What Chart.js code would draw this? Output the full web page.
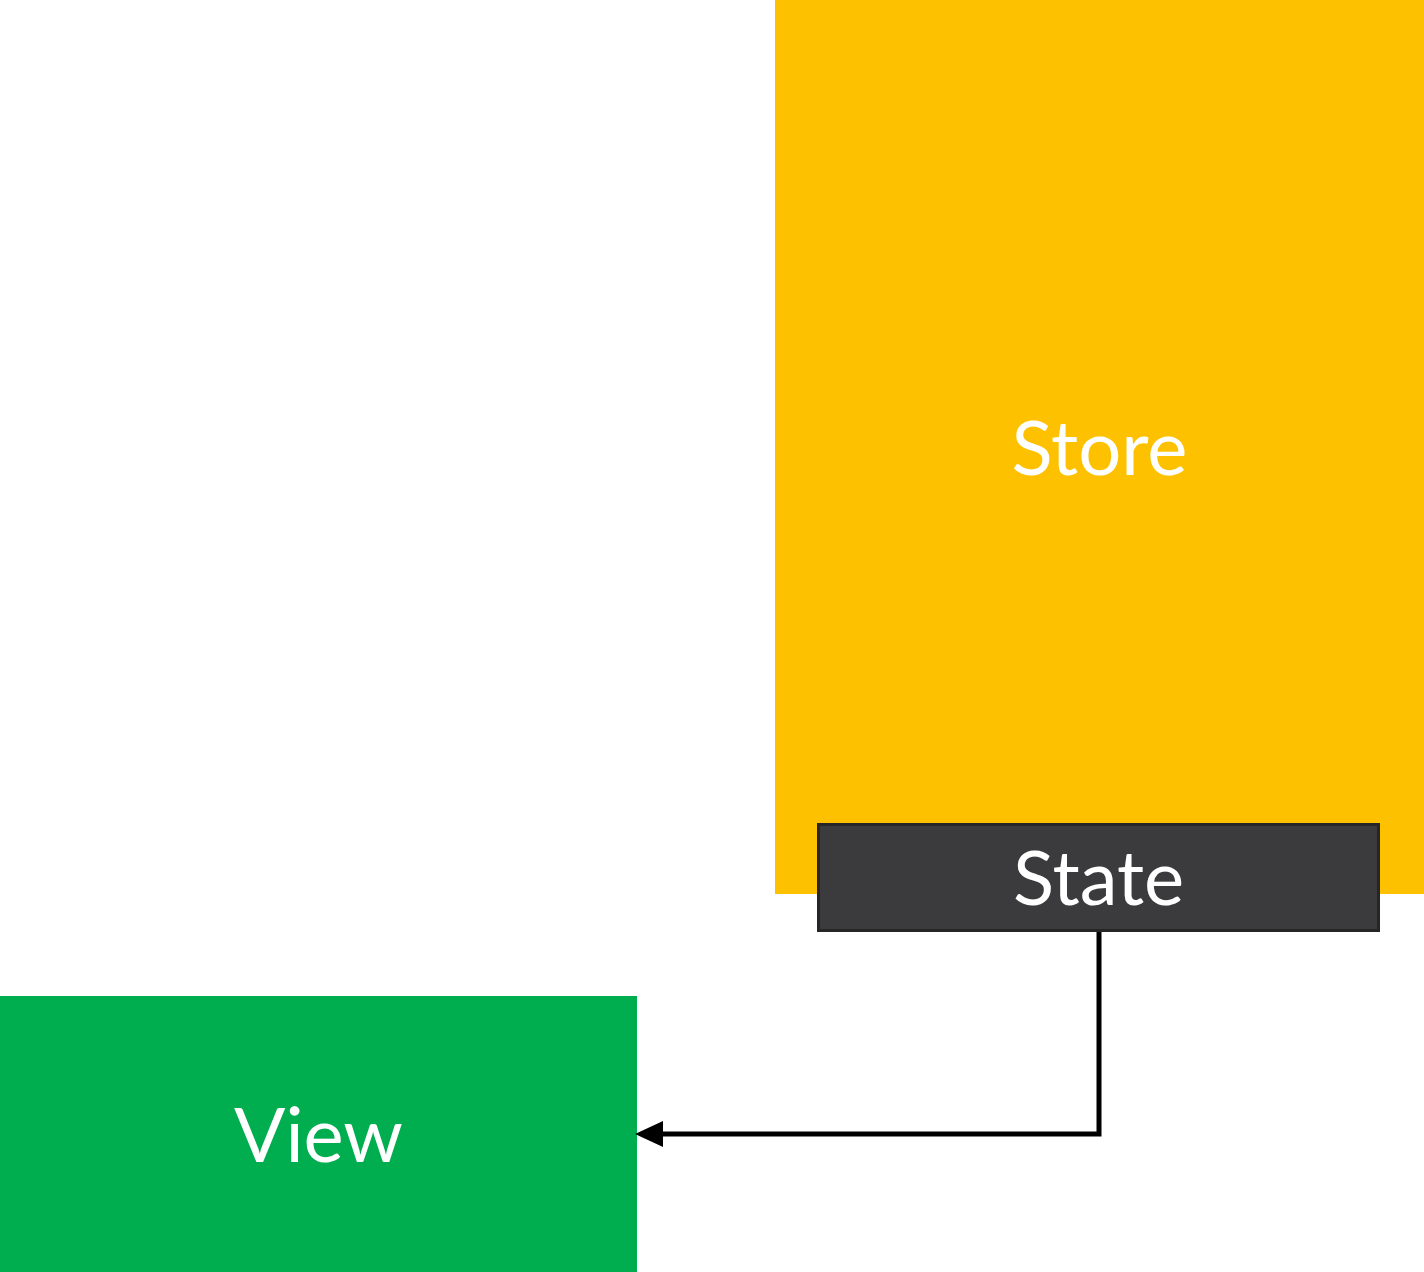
<!DOCTYPE html>
<html>
<head>
<meta charset="utf-8">
<script src="https://cdn.jsdelivr.net/npm/chart.js@4"></script>
<style>
  html, body { margin: 0; padding: 0; background: #fff; }
  #wrap { width: 1424px; height: 1272px; }
</style>
</head>
<body>
<div id="wrap"><canvas id="c"></canvas></div>
<script>
// Boxes of the diagram, in axis units (x right, y down)
const boxLabels = ['Store', 'State', 'View'];
const boxX0 = [775, 817, 0];
const boxX1 = [1424, 1380, 637];
const boxY0 = [0, 823, 996];
const boxY1 = [894, 932, 1272];
const boxFill = ['#fdc100', '#3b3b3d', '#00ae50'];
const boxBorder = [null, '#262626', null];
const labelY = [450, 880, 1137];

// Connector from State down and left to View
const arrowX = [1099, 1099, 660];
const arrowY = [932, 1134, 1134];

const boxesPlugin = {
  id: 'boxes',
  beforeDatasetsDraw(chart) {
    const { ctx, scales: { x, y } } = chart;
    ctx.save();
    boxLabels.forEach((label, i) => {
      const px0 = x.getPixelForValue(boxX0[i]);
      const px1 = x.getPixelForValue(boxX1[i]);
      const py0 = y.getPixelForValue(boxY0[i]);
      const py1 = y.getPixelForValue(boxY1[i]);
      ctx.fillStyle = boxFill[i];
      ctx.fillRect(px0, py0, px1 - px0, py1 - py0);
      if (boxBorder[i]) {
        ctx.strokeStyle = boxBorder[i];
        ctx.lineWidth = 3;
        ctx.strokeRect(px0 + 1.5, py0 + 1.5, px1 - px0 - 3, py1 - py0 - 3);
      }
      ctx.fillStyle = '#ffffff';
      ctx.font = '76px Lato';
      ctx.textAlign = 'center';
      ctx.textBaseline = 'middle';
      ctx.fillText(label, (px0 + px1) / 2, y.getPixelForValue(labelY[i]));
    });
    ctx.restore();
  },
  afterDatasetsDraw(chart) {
    // arrow head at the end of the connector
    const { ctx, scales: { x, y } } = chart;
    const n = arrowX.length - 1;
    const tx = x.getPixelForValue(637 - 2);
    const ty = y.getPixelForValue(arrowY[n]);
    ctx.save();
    ctx.fillStyle = '#000';
    ctx.beginPath();
    ctx.moveTo(tx, ty);
    ctx.lineTo(tx + 28, ty - 13);
    ctx.lineTo(tx + 28, ty + 13);
    ctx.closePath();
    ctx.fill();
    ctx.restore();
  }
};

new Chart(document.getElementById('c'), {
  type: 'scatter',
  data: {
    datasets: [{
      data: arrowX.map((v, i) => ({ x: v, y: arrowY[i] })),
      showLine: true,
      borderColor: '#000',
      borderWidth: 5,
      pointRadius: 0,
      borderJoinStyle: 'miter',
      tension: 0
    }]
  },
  options: {
    responsive: true,
    maintainAspectRatio: false,
    animation: false,
    layout: { padding: 0 },
    plugins: { legend: { display: false }, tooltip: { enabled: false } },
    scales: {
      x: { type: 'linear', min: 0, max: 1424, display: false },
      y: { type: 'linear', min: 0, max: 1272, reverse: true, display: false }
    }
  },
  plugins: [boxesPlugin]
});
</script>
</body>
</html>
